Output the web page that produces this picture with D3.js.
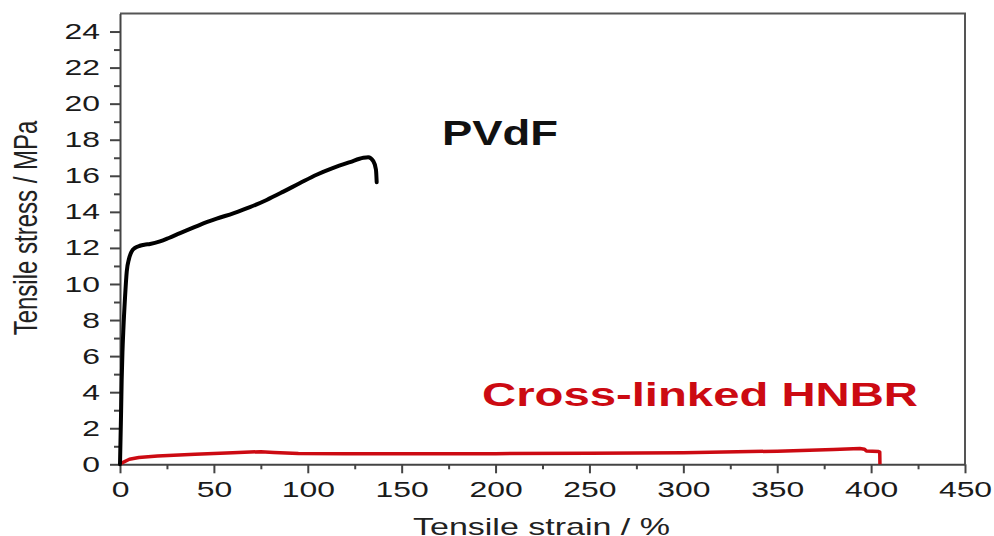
<!DOCTYPE html>
<html>
<head>
<meta charset="utf-8">
<script src="https://cdn.jsdelivr.net/npm/d3@7"></script>
<style>
  body { margin: 0; background: #fff; }
  text { font-family: "Liberation Sans", Arial, sans-serif; }
</style>
</head>
<body>
<script>
  var width = 994;
  var height = 536;

  // PVdF stress-strain curve
  var pvdfStrain = [0, 0.3, 0.6, 0.9, 1.3, 1.8, 2.7, 3.6, 4.8, 6.2, 8.0, 10.6, 13, 16, 21.3, 26, 32, 38, 42.6, 51.5, 60.3, 69.2, 78.1, 87, 95.9, 104.7, 113.6, 122.5, 129.6, 132.2, 134.9, 136.3, 136.7];
  var pvdfStress = [0, 1.5, 3.0, 4.7, 6.2, 7.5, 9.3, 10.7, 11.4, 11.8, 12.0, 12.12, 12.18, 12.22, 12.36, 12.55, 12.82, 13.08, 13.28, 13.62, 13.92, 14.26, 14.66, 15.12, 15.6, 16.06, 16.44, 16.76, 17.0, 17.03, 16.81, 16.35, 15.64];

  // Cross-linked HNBR stress-strain curve
  var hnbrStrain = [0, 5, 10, 20, 40, 60, 75, 82, 95, 120, 150, 200, 250, 300, 350, 380, 394, 396.5, 397.5, 404, 404.6, 404.7];
  var hnbrStress = [0.02, 0.28, 0.38, 0.46, 0.56, 0.64, 0.70, 0.66, 0.6, 0.58, 0.58, 0.59, 0.61, 0.64, 0.73, 0.82, 0.88, 0.84, 0.74, 0.71, 0.68, 0];

  var xTicks = [0, 50, 100, 150, 200, 250, 300, 350, 400, 450];
  var xMinor = [25, 75, 125, 175, 225, 275, 325, 375, 425];
  var yTicks = [0, 2, 4, 6, 8, 10, 12, 14, 16, 18, 20, 22, 24];
  var yMinor = [1, 3, 5, 7, 9, 11, 13, 15, 17, 19, 21, 23];

  var plotL = 120, plotR = 965, plotT = 13.5, plotB = 464.3;
  var stretch = 1.45;

  var x = d3.scaleLinear().domain([0, 450]).range([plotL, plotR]);
  var y = d3.scaleLinear().domain([0, 25]).range([plotB, plotT]);

  var svg = d3.select("body")
    .append("svg")
    .attr("width", width)
    .attr("height", height);

  // frame (top and right)
  svg.append("path")
    .attr("d", "M" + plotL + "," + plotT + "H" + plotR + "V" + plotB)
    .attr("fill", "none")
    .attr("stroke", "#555")
    .attr("stroke-width", 2);

  // minor ticks
  svg.append("g")
    .attr("transform", "translate(0," + plotB + ")")
    .call(d3.axisBottom(x).tickValues(xMinor).tickSize(5).tickSizeOuter(0).tickFormat(""))
    .call(function(g) { g.select(".domain").remove(); });
  svg.append("g")
    .attr("transform", "translate(" + plotL + ",0)")
    .call(d3.axisLeft(y).tickValues(yMinor).tickSize(6).tickSizeOuter(0).tickFormat(""))
    .call(function(g) { g.select(".domain").remove(); });

  // major axes
  var xAxis = svg.append("g")
    .attr("transform", "translate(0," + plotB + ")")
    .call(d3.axisBottom(x).tickValues(xTicks).tickSize(9).tickSizeOuter(0));
  xAxis.selectAll("text")
    .attr("y", 17)
    .attr("transform", "scale(" + stretch + ",1)");

  var yAxis = svg.append("g")
    .attr("transform", "translate(" + plotL + ",0)")
    .call(d3.axisLeft(y).tickValues(yTicks).tickSize(10).tickSizeOuter(0));
  yAxis.selectAll("text")
    .attr("x", -20 / stretch)
    .attr("transform", "scale(" + stretch + ",1)");

  svg.selectAll(".tick line").attr("stroke", "#444").attr("stroke-width", 2);
  svg.selectAll(".domain").attr("stroke", "#444").attr("stroke-width", 2);
  svg.selectAll(".tick text")
    .attr("fill", "#1a1a1a")
    .style("font-size", "22px");

  // curves
  var pvdf = pvdfStrain.map(function(d, i) { return [d, pvdfStress[i]]; });
  var hnbr = hnbrStrain.map(function(d, i) { return [d, hnbrStress[i]]; });

  var line = d3.line()
    .x(function(d) { return x(d[0]); })
    .y(function(d) { return y(d[1]); });

  svg.append("path")
    .datum(hnbr)
    .attr("d", line.curve(d3.curveLinear))
    .attr("fill", "none")
    .attr("stroke", "#cc0a12")
    .attr("stroke-width", 3.5)
    .attr("stroke-linejoin", "round");

  svg.append("path")
    .datum(pvdf)
    .attr("d", line.curve(d3.curveMonotoneX))
    .attr("fill", "none")
    .attr("stroke", "#000")
    .attr("stroke-width", 4)
    .attr("stroke-linejoin", "round")
    .attr("stroke-linecap", "round");

  // series labels
  svg.append("text")
    .attr("x", 442)
    .attr("y", 145)
    .attr("textLength", 116)
    .attr("lengthAdjust", "spacingAndGlyphs")
    .style("font-size", "35px")
    .style("font-weight", "bold")
    .attr("fill", "#111")
    .text("PVdF");

  svg.append("text")
    .attr("x", 482)
    .attr("y", 406)
    .attr("textLength", 436)
    .attr("lengthAdjust", "spacingAndGlyphs")
    .style("font-size", "33px")
    .style("font-weight", "bold")
    .attr("fill", "#cc0a12")
    .text("Cross-linked HNBR");

  // axis titles
  svg.append("text")
    .attr("x", 413)
    .attr("y", 535)
    .attr("textLength", 257)
    .attr("lengthAdjust", "spacingAndGlyphs")
    .style("font-size", "24px")
    .attr("fill", "#222")
    .text("Tensile strain / %");

  svg.append("text")
    .attr("transform", "translate(37,228) scale(1.4,1) rotate(-90)")
    .attr("text-anchor", "middle")
    .style("font-size", "24px")
    .attr("fill", "#222")
    .text("Tensile stress / MPa");
</script>
</body>
</html>
